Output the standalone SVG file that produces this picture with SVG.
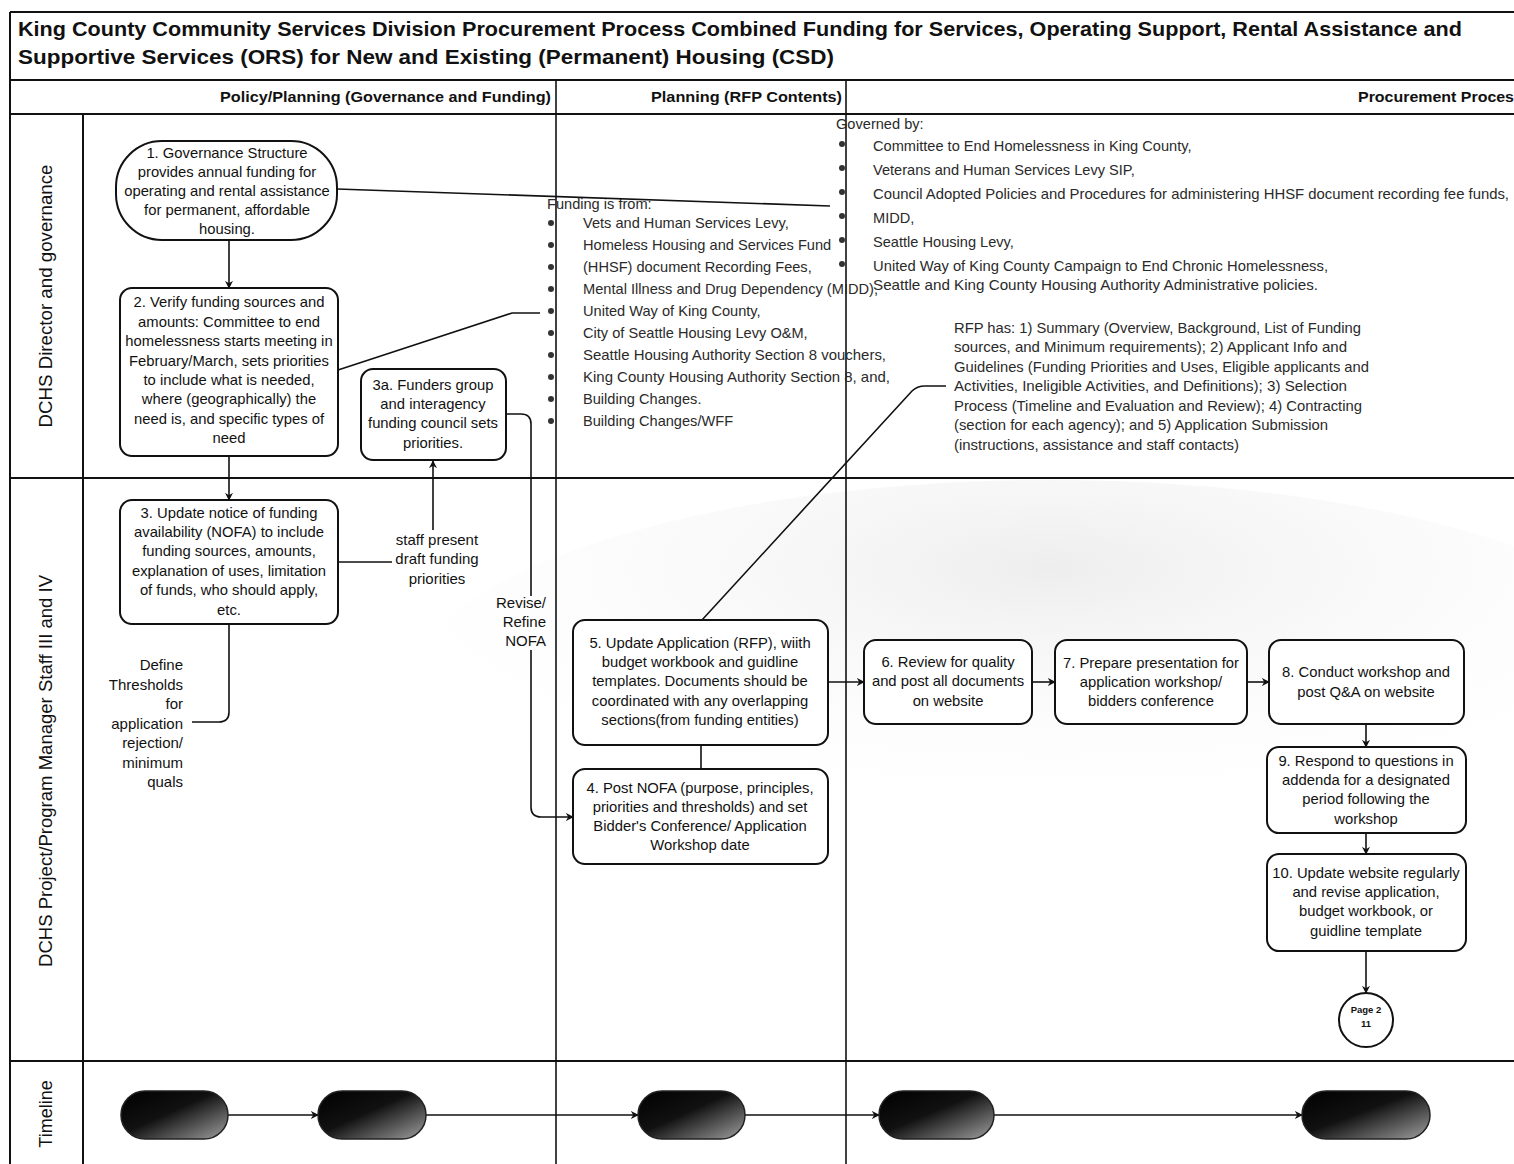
<svg xmlns="http://www.w3.org/2000/svg" width="1514" height="1164" viewBox="0 0 1514 1164">
<defs>
<style>
.frame{stroke:#111;stroke-width:2;fill:none}
.node rect{fill:#fff;stroke:#111;stroke-width:2}
.nt{font-family:"Liberation Sans",Arial,sans-serif;font-size:14.8px;fill:#111;text-anchor:middle}
.lt{font-family:"Liberation Sans",Arial,sans-serif;font-size:14.6px;fill:#2a2a2a}
.lbl{font-family:"Liberation Sans",Arial,sans-serif;font-size:15px;fill:#111}
.title{font-family:"Liberation Sans",Arial,sans-serif;font-size:21px;font-weight:bold;fill:#111}
.hdr{font-family:"Liberation Sans",Arial,sans-serif;font-size:15.5px;font-weight:bold;fill:#111;text-anchor:end}
.lane{font-family:"Liberation Sans",Arial,sans-serif;font-size:18px;fill:#111;text-anchor:middle}
.con{stroke:#111;stroke-width:1.6;fill:none}
.arr{marker-end:url(#ah)}
.bul{fill:#333}
.pill{fill:url(#pg);stroke:#222;stroke-width:1.5}
</style>
<marker id="ah" viewBox="0 0 10 10" refX="9" refY="5" markerWidth="8" markerHeight="8" markerUnits="userSpaceOnUse" orient="auto">
<path d="M0,0 L10,5 L0,10 L3,5 z" fill="#111"/>
</marker>
<linearGradient id="pg" x1="0" y1="0" x2="1" y2="1">
<stop offset="0" stop-color="#000"/>
<stop offset="0.45" stop-color="#111"/>
<stop offset="1" stop-color="#a0a0a0"/>
</linearGradient>
<radialGradient id="bgg" cx="0.5" cy="0.2" r="0.6">
<stop offset="0" stop-color="#e6e6e6"/>
<stop offset="1" stop-color="#fff" stop-opacity="0"/>
</radialGradient>
</defs>
<rect x="0" y="0" width="1514" height="1164" fill="#fff"/>
<ellipse cx="1050" cy="700" rx="650" ry="220" fill="url(#bgg)" opacity="0.7"/>

<g id="frame">
<line class="frame" x1="10" y1="12" x2="1514" y2="12"/>
<line class="frame" x1="10" y1="12" x2="10" y2="1164"/>
<line class="frame" x1="10" y1="80" x2="1514" y2="80"/>
<line class="frame" x1="10" y1="114" x2="1514" y2="114"/>
<line class="frame" x1="10" y1="478" x2="1514" y2="478"/>
<line class="frame" x1="10" y1="1061" x2="1514" y2="1061"/>
<line class="frame" x1="83" y1="114" x2="83" y2="1164"/>
<line class="frame" x1="556" y1="80" x2="556" y2="1164" style="stroke-width:1.6"/>
<line class="frame" x1="846" y1="80" x2="846" y2="1164" style="stroke-width:1.6"/>
<text class="title" x="18" y="36" textLength="1444" lengthAdjust="spacingAndGlyphs">King County Community Services Division Procurement Process Combined Funding for Services, Operating Support, Rental Assistance and</text>
<text class="title" x="18" y="64" textLength="816" lengthAdjust="spacingAndGlyphs">Supportive Services (ORS) for New and Existing (Permanent) Housing (CSD)</text>
<text class="hdr" x="551" y="102" textLength="331" lengthAdjust="spacingAndGlyphs">Policy/Planning (Governance and Funding)</text>
<text class="hdr" x="842" y="102" textLength="191" lengthAdjust="spacingAndGlyphs">Planning (RFP Contents)</text>
<text class="hdr" x="1514" y="102" textLength="156" lengthAdjust="spacingAndGlyphs">Procurement Proces</text>
<text class="lane" transform="translate(52,296) rotate(-90)" textLength="263" lengthAdjust="spacingAndGlyphs">DCHS Director and governance</text>
<text class="lane" transform="translate(52,771) rotate(-90)" textLength="392" lengthAdjust="spacingAndGlyphs">DCHS Project/Program Manager Staff III and IV</text>
<text class="lane" transform="translate(52,1114) rotate(-90)">Timeline</text>
</g>

<g id="funding-list">
<text class="lt" x="547" y="209">Funding is from:</text>
<circle class="bul" cx="551" cy="223" r="3"/><text class="lt" x="583" y="228">Vets and Human Services Levy,</text>
<circle class="bul" cx="551" cy="245" r="3"/><text class="lt" x="583" y="250">Homeless Housing and Services Fund</text>
<circle class="bul" cx="551" cy="267" r="3"/><text class="lt" x="583" y="272">(HHSF) document Recording Fees,</text>
<circle class="bul" cx="551" cy="289" r="3"/><text class="lt" x="583" y="294" textLength="295" lengthAdjust="spacingAndGlyphs">Mental Illness and Drug Dependency (MIDD),</text>
<circle class="bul" cx="551" cy="311" r="3"/><text class="lt" x="583" y="316">United Way of King County,</text>
<circle class="bul" cx="551" cy="333" r="3"/><text class="lt" x="583" y="338">City of Seattle Housing Levy O&amp;M,</text>
<circle class="bul" cx="551" cy="355" r="3"/><text class="lt" x="583" y="360" textLength="303" lengthAdjust="spacingAndGlyphs">Seattle Housing Authority Section 8 vouchers,</text>
<circle class="bul" cx="551" cy="377" r="3"/><text class="lt" x="583" y="382" textLength="307" lengthAdjust="spacingAndGlyphs">King County Housing Authority Section 8, and,</text>
<circle class="bul" cx="551" cy="399" r="3"/><text class="lt" x="583" y="404">Building Changes.</text>
<circle class="bul" cx="551" cy="421" r="3"/><text class="lt" x="583" y="426">Building Changes/WFF</text>
</g>

<g id="governed-list">
<text class="lt" x="836" y="129">Governed by:</text>
<circle class="bul" cx="842" cy="144" r="3"/><text class="lt" x="873" y="151">Committee to End Homelessness in King County,</text>
<circle class="bul" cx="842" cy="168" r="3"/><text class="lt" x="873" y="175">Veterans and Human Services Levy SIP,</text>
<circle class="bul" cx="842" cy="192" r="3"/><text class="lt" x="873" y="199" textLength="636" lengthAdjust="spacingAndGlyphs">Council Adopted Policies and Procedures for administering HHSF document recording fee funds,</text>
<circle class="bul" cx="842" cy="216" r="3"/><text class="lt" x="873" y="223">MIDD,</text>
<circle class="bul" cx="842" cy="240" r="3"/><text class="lt" x="873" y="247">Seattle Housing Levy,</text>
<circle class="bul" cx="842" cy="264" r="3"/><text class="lt" x="873" y="271" textLength="455" lengthAdjust="spacingAndGlyphs">United Way of King County Campaign to End Chronic Homelessness,</text>
<text class="lt" x="873" y="290" textLength="445" lengthAdjust="spacingAndGlyphs">Seattle and King County Housing Authority Administrative policies.</text>
</g>

<g id="rfp-text">
<text class="lt" x="954" y="333" textLength="407" lengthAdjust="spacingAndGlyphs">RFP has: 1) Summary (Overview, Background, List of Funding</text>
<text class="lt" x="954" y="352" textLength="393" lengthAdjust="spacingAndGlyphs">sources, and Minimum requirements); 2) Applicant Info and</text>
<text class="lt" x="954" y="372" textLength="415" lengthAdjust="spacingAndGlyphs">Guidelines (Funding Priorities and Uses, Eligible applicants and</text>
<text class="lt" x="954" y="391" textLength="393" lengthAdjust="spacingAndGlyphs">Activities, Ineligible Activities, and Definitions); 3) Selection</text>
<text class="lt" x="954" y="411" textLength="408" lengthAdjust="spacingAndGlyphs">Process (Timeline and Evaluation and Review); 4) Contracting</text>
<text class="lt" x="954" y="430" textLength="374" lengthAdjust="spacingAndGlyphs">(section for each agency); and 5) Application Submission</text>
<text class="lt" x="954" y="450" textLength="285" lengthAdjust="spacingAndGlyphs">(instructions, assistance and staff contacts)</text>
</g>

<g id="connectors">
<line class="con arr" x1="229" y1="240" x2="229" y2="288"/>
<line class="con" x1="337" y1="189" x2="830" y2="206"/>
<path class="con" d="M338,370 L512,313 H540"/>
<line class="con arr" x1="229" y1="456" x2="229" y2="500"/>
<line class="con" x1="338" y1="562" x2="392" y2="562"/>
<line class="con arr" x1="433" y1="530" x2="433" y2="461"/>
<path class="con" d="M506,414 H521 Q531,414 531,424 V596"/>
<path class="con arr" d="M531,650 V807 Q531,817 541,817 H573"/>
<path class="con" d="M229,624 V712 Q229,722 219,722 H192"/>
<path class="con" d="M702,620 L912,391 Q917,386 925,386 H946"/>
<line class="con" x1="701" y1="745" x2="701" y2="769"/>
<line class="con arr" x1="828" y1="682" x2="864" y2="682"/>
<line class="con arr" x1="1032" y1="682" x2="1055" y2="682"/>
<line class="con arr" x1="1247" y1="682" x2="1269" y2="682"/>
<line class="con arr" x1="1366" y1="724" x2="1366" y2="747"/>
<line class="con arr" x1="1366" y1="833" x2="1366" y2="854"/>
<line class="con arr" x1="1366" y1="951" x2="1366" y2="993"/>
<line class="con arr" x1="228" y1="1115" x2="318" y2="1115"/>
<line class="con arr" x1="426" y1="1115" x2="638" y2="1115"/>
<line class="con arr" x1="745" y1="1115" x2="879" y2="1115"/>
<line class="con arr" x1="994" y1="1115" x2="1302" y2="1115"/>
<text class="lbl" x="437" y="545" text-anchor="middle">staff present</text>
<text class="lbl" x="437" y="564" text-anchor="middle">draft funding</text>
<text class="lbl" x="437" y="584" text-anchor="middle">priorities</text>
<text class="lbl" x="546" y="608" text-anchor="end">Revise/</text>
<text class="lbl" x="546" y="627" text-anchor="end">Refine</text>
<text class="lbl" x="546" y="646" text-anchor="end">NOFA</text>
<text class="lbl" x="183" y="670" text-anchor="end">Define</text>
<text class="lbl" x="183" y="690" text-anchor="end">Thresholds</text>
<text class="lbl" x="183" y="709" text-anchor="end">for</text>
<text class="lbl" x="183" y="729" text-anchor="end">application</text>
<text class="lbl" x="183" y="748" text-anchor="end">rejection/</text>
<text class="lbl" x="183" y="768" text-anchor="end">minimum</text>
<text class="lbl" x="183" y="787" text-anchor="end">quals</text>
</g>

<g id="n1" class="node"><rect x="116" y="141" width="221" height="99" rx="46" ry="46"/>
<text class="nt"><tspan x="227" y="158">1. Governance Structure</tspan><tspan x="227" y="177">provides annual funding for</tspan><tspan x="227" y="196">operating and rental assistance</tspan><tspan x="227" y="215">for permanent, affordable</tspan><tspan x="227" y="234">housing.</tspan></text></g>

<g id="n2" class="node"><rect x="120" y="288" width="218" height="168" rx="12"/>
<text class="nt"><tspan x="229" y="307">2. Verify funding sources and</tspan><tspan x="229" y="327">amounts: Committee to end</tspan><tspan x="229" y="346">homelessness starts meeting in</tspan><tspan x="229" y="366">February/March, sets priorities</tspan><tspan x="229" y="385">to include what is needed,</tspan><tspan x="229" y="404">where (geographically) the</tspan><tspan x="229" y="424">need is, and specific types of</tspan><tspan x="229" y="443">need</tspan></text></g>

<g id="n3a" class="node"><rect x="361" y="369" width="145" height="91" rx="12"/>
<text class="nt"><tspan x="433" y="390">3a. Funders group</tspan><tspan x="433" y="409">and  interagency</tspan><tspan x="433" y="428">funding council  sets</tspan><tspan x="433" y="448">priorities.</tspan></text></g>

<g id="n3" class="node"><rect x="120" y="500" width="218" height="124" rx="12"/>
<text class="nt"><tspan x="229" y="518">3. Update notice of funding</tspan><tspan x="229" y="537">availability (NOFA) to include</tspan><tspan x="229" y="556">funding sources, amounts,</tspan><tspan x="229" y="576">explanation of uses, limitation</tspan><tspan x="229" y="595">of funds, who should apply,</tspan><tspan x="229" y="615">etc.</tspan></text></g>

<g id="n5" class="node"><rect x="573" y="620" width="255" height="125" rx="12"/>
<text class="nt"><tspan x="700" y="648">5. Update Application (RFP), wiith</tspan><tspan x="700" y="667">budget workbook and guidline</tspan><tspan x="700" y="686">templates. Documents should be</tspan><tspan x="700" y="706">coordinated with any overlapping</tspan><tspan x="700" y="725">sections(from funding entities)</tspan></text></g>

<g id="n4" class="node"><rect x="573" y="769" width="255" height="95" rx="12"/>
<text class="nt"><tspan x="700" y="793">4. Post NOFA (purpose, principles,</tspan><tspan x="700" y="812">priorities and thresholds) and set</tspan><tspan x="700" y="831">Bidder's Conference/ Application</tspan><tspan x="700" y="850">Workshop date</tspan></text></g>

<g id="n6" class="node"><rect x="864" y="640" width="168" height="84" rx="12"/>
<text class="nt"><tspan x="948" y="667">6. Review for quality</tspan><tspan x="948" y="686">and post all documents</tspan><tspan x="948" y="706">on website</tspan></text></g>

<g id="n7" class="node"><rect x="1055" y="640" width="192" height="84" rx="12"/>
<text class="nt"><tspan x="1151" y="668">7. Prepare presentation for</tspan><tspan x="1151" y="687">application workshop/</tspan><tspan x="1151" y="706">bidders conference</tspan></text></g>

<g id="n8" class="node"><rect x="1269" y="640" width="195" height="84" rx="12"/>
<text class="nt"><tspan x="1366" y="677">8. Conduct workshop and</tspan><tspan x="1366" y="697">post Q&amp;A on website</tspan></text></g>

<g id="n9" class="node"><rect x="1267" y="747" width="199" height="86" rx="12"/>
<text class="nt"><tspan x="1366" y="766">9. Respond to questions in</tspan><tspan x="1366" y="785">addenda for a designated</tspan><tspan x="1366" y="804">period following the</tspan><tspan x="1366" y="824">workshop</tspan></text></g>

<g id="n10" class="node"><rect x="1267" y="854" width="199" height="97" rx="12"/>
<text class="nt"><tspan x="1366" y="878">10. Update website regularly</tspan><tspan x="1366" y="897">and revise application,</tspan><tspan x="1366" y="916">budget workbook, or</tspan><tspan x="1366" y="936">guidline template</tspan></text></g>

<g id="page2">
<circle cx="1366" cy="1020" r="27" fill="#fff" stroke="#111" stroke-width="2"/>
<text x="1366" y="1013" text-anchor="middle" font-family="Liberation Sans, Arial, sans-serif" font-size="9.5" font-weight="bold" fill="#111">Page 2</text>
<text x="1366" y="1027" text-anchor="middle" font-family="Liberation Sans, Arial, sans-serif" font-size="9.5" font-weight="bold" fill="#111">11</text>
</g>

<g id="t1"><rect class="pill" x="121" y="1091" width="107" height="48" rx="24"/></g>
<g id="t2"><rect class="pill" x="318" y="1091" width="108" height="48" rx="24"/></g>
<g id="t3"><rect class="pill" x="638" y="1091" width="107" height="48" rx="24"/></g>
<g id="t4"><rect class="pill" x="879" y="1091" width="115" height="48" rx="24"/></g>
<g id="t5"><rect class="pill" x="1302" y="1091" width="128" height="48" rx="24"/></g>
</svg>
